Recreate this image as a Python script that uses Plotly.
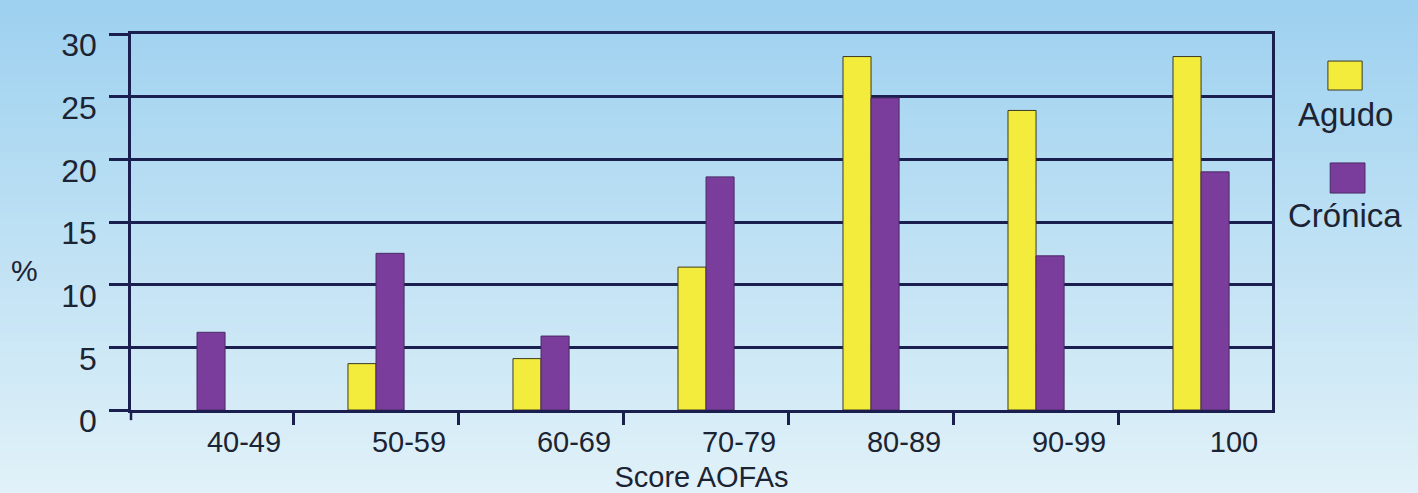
import plotly.graph_objects as go

# Score AOFAs distribution (%) by group
categories = ["40-49", "50-59", "60-69", "70-79", "80-89", "90-99", "100"]
agudo = [None, 3.7, 4.1, 11.4, 28.2, 23.9, 28.2]
cronica = [6.2, 12.5, 5.9, 18.6, 24.9, 12.3, 19.0]
y_ticks = [0, 5, 10, 15, 20, 25, 30]

YELLOW = "#f3ec3c"
PURPLE = "#7b3d9c"
NAVY = "#1b1f4f"
TEXT = "#1c2433"
FONT = "Liberation Sans, Arial, sans-serif"

BAR_W = 0.17
# pair the two bars side by side; a lone bar sits centred on its category
off_agudo = [-BAR_W for _ in categories]
off_cronica = [0.0 if a is not None else -BAR_W / 2 for a in agudo]

fig = go.Figure()
fig.add_trace(go.Bar(
    x=categories, y=agudo, name="Agudo", width=BAR_W, offset=off_agudo,
    marker=dict(color=YELLOW, line=dict(color="#3b3a22", width=1)),
))
fig.add_trace(go.Bar(
    x=categories, y=cronica, name="Crónica", width=BAR_W, offset=off_cronica,
    marker=dict(color=PURPLE, line=dict(color="#4a2a66", width=1)),
))

# vertical sky-blue wash behind everything
shapes = []
top = (0x9c, 0xd0, 0xef)
bottom = (0xe2, 0xf2, 0xf9)
n = 60
y_lo, y_hi = -0.25, 1.12
for i in range(n):
    t = i / (n - 1)
    c = tuple(round(bottom[k] + (top[k] - bottom[k]) * t) for k in range(3))
    y0 = y_lo + (y_hi - y_lo) * i / n
    y1 = y_lo + (y_hi - y_lo) * (i + 1) / n + 0.002
    shapes.append(dict(
        type="rect", xref="paper", yref="paper", x0=-0.2, x1=1.3, y0=y0, y1=y1,
        fillcolor="rgb(%d,%d,%d)" % c, line=dict(width=0), layer="below",
    ))

# left axis runs a little past the baseline
shapes.append(dict(type="line", xref="paper", yref="paper",
                   x0=0, x1=0, y0=0, y1=-0.027,
                   line=dict(color=NAVY, width=2.5)))

# legend swatches stacked above their labels
shapes.append(dict(type="rect", xref="paper", yref="paper",
                   x0=1.049, x1=1.079, y0=0.851, y1=0.928,
                   fillcolor=YELLOW, line=dict(color="#3b3a22", width=1)))
shapes.append(dict(type="rect", xref="paper", yref="paper",
                   x0=1.051, x1=1.0815, y0=0.577, y1=0.657,
                   fillcolor=PURPLE, line=dict(color="#4a2a66", width=1)))

annotations = [
    dict(text="Agudo", xref="paper", yref="paper", x=1.064, y=0.785,
         showarrow=False, xanchor="center", yanchor="middle",
         font=dict(size=33, color=TEXT, family=FONT)),
    dict(text="Crónica", xref="paper", yref="paper", x=1.064, y=0.516,
         showarrow=False, xanchor="center", yanchor="middle",
         font=dict(size=33, color=TEXT, family=FONT)),
    dict(text="%", xref="paper", yref="paper", x=-0.093, y=0.372,
         showarrow=False, xanchor="center", yanchor="middle",
         font=dict(size=30, color=TEXT, family=FONT)),
]

fig.update_layout(
    width=1418, height=493,
    margin=dict(l=131, r=146, t=34, b=83),
    paper_bgcolor="rgb(226,242,249)",
    plot_bgcolor="rgba(0,0,0,0)",
    barmode="overlay",
    showlegend=False,
    shapes=shapes,
    annotations=annotations,
    font=dict(family=FONT, color=TEXT),
)

fig.update_xaxes(
    type="category", categoryorder="array", categoryarray=categories,
    range=[-0.485, 6.43], automargin=False,
    tickson="boundaries", ticks="outside", ticklen=12, tickwidth=2.5,
    tickcolor=NAVY, showgrid=False,
    showline=True, linecolor=NAVY, linewidth=2.5, mirror=True,
    tickfont=dict(size=29, color=TEXT), ticklabelshift=33,
    ticklabelstandoff=4,
    title=dict(text="Score AOFAs", font=dict(size=29, color=TEXT), standoff=15),
)
fig.update_yaxes(
    range=[0, 30], tickvals=y_ticks, ticktext=[str(v) for v in y_ticks],
    automargin=False,
    showgrid=True, gridcolor=NAVY, gridwidth=2.5, zeroline=False,
    ticks="outside", ticklen=19, tickwidth=2.5, tickcolor=NAVY,
    showline=True, linecolor=NAVY, linewidth=2.5, mirror=True,
    tickfont=dict(size=32, color=TEXT), ticklabelstandoff=6,
    ticklabelshift=11,
)

fig.write_html("out.html")
